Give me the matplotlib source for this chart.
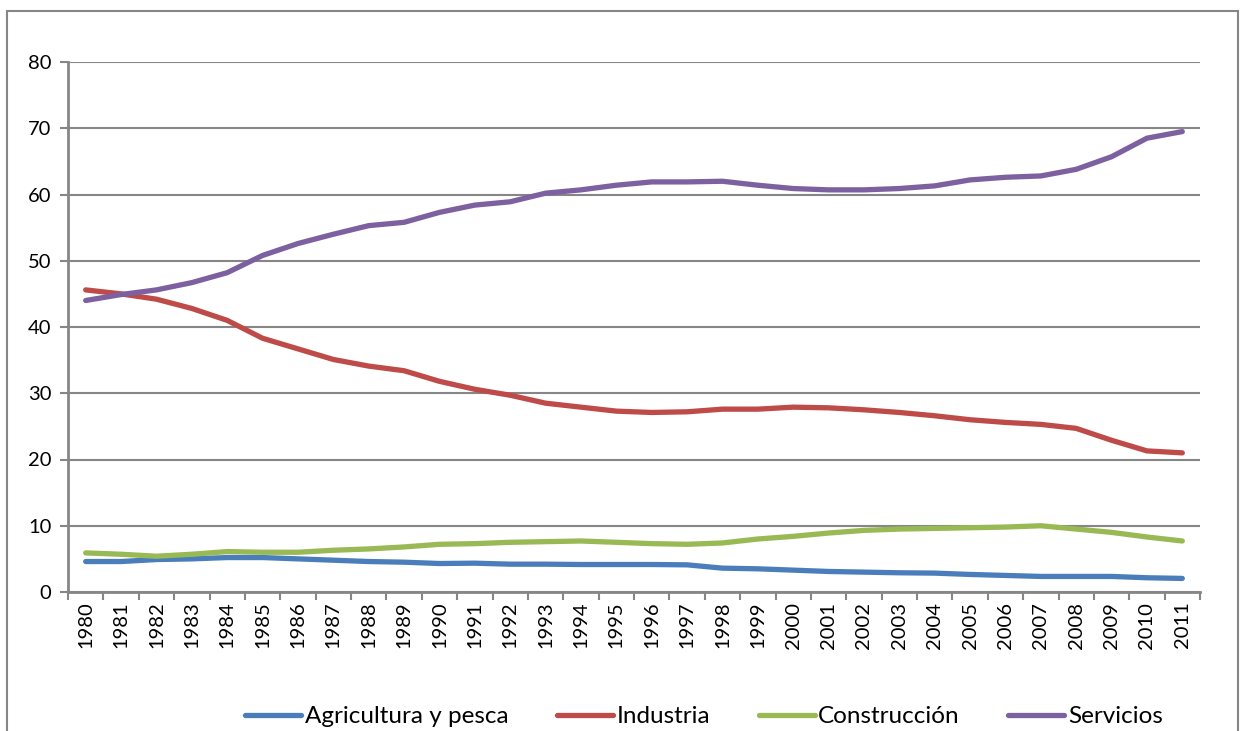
import numpy as np
import matplotlib
matplotlib.use("Agg")
import matplotlib.pyplot as plt
from matplotlib.patches import Rectangle

plt.rcParams["font.family"] = ["Lato", "DejaVu Sans"]

years = [str(y) for y in range(1980, 2012)]

agricultura = [4.6, 4.6, 4.9, 5.0, 5.2, 5.2, 5.0, 4.8, 4.6, 4.5, 4.3, 4.35, 4.2, 4.2, 4.15, 4.15,
               4.15, 4.1, 3.6, 3.5, 3.3, 3.1, 3.0, 2.9, 2.85, 2.65, 2.5, 2.35, 2.35, 2.35, 2.15, 2.05]
industria = [45.6, 45.0, 44.2, 42.8, 41.0, 38.3, 36.7, 35.1, 34.1, 33.4, 31.8, 30.6, 29.7, 28.5, 27.9, 27.3,
             27.1, 27.2, 27.6, 27.6, 27.9, 27.8, 27.5, 27.1, 26.6, 26.0, 25.6, 25.3, 24.7, 22.9, 21.3, 21.0]
construccion = [5.9, 5.7, 5.4, 5.7, 6.1, 6.0, 6.0, 6.3, 6.5, 6.8, 7.2, 7.3, 7.5, 7.6, 7.7, 7.5,
                7.3, 7.2, 7.4, 8.0, 8.4, 8.9, 9.3, 9.5, 9.6, 9.7, 9.8, 10.0, 9.5, 9.0, 8.3, 7.7]
servicios = [44.0, 44.9, 45.6, 46.7, 48.2, 50.8, 52.6, 54.0, 55.3, 55.8, 57.3, 58.4, 58.9, 60.2, 60.7, 61.4,
             61.9, 61.9, 62.0, 61.4, 60.9, 60.7, 60.7, 60.9, 61.3, 62.2, 62.6, 62.8, 63.8, 65.7, 68.5, 69.5]

series = [
    ("Agricultura y pesca", agricultura, "#4a7ebb"),
    ("Industria", industria, "#be4b48"),
    ("Construcción", construccion, "#98b954"),
    ("Servicios", servicios, "#7d60a0"),
]

fig = plt.figure(figsize=(12.46, 7.31), dpi=100)
ax = fig.add_axes([68 / 1246, 1 - 592 / 731, (1200 - 68) / 1246, (592 - 62) / 731])

x = np.arange(len(years))
for name, vals, col in series:
    ax.plot(x, vals, color=col, lw=3.8, solid_capstyle="round", solid_joinstyle="round", label=name)

grid_col = "#868686"
ax.set_xlim(-0.5, len(years) - 0.5)
ax.set_ylim(0, 80)
ax.set_yticks(range(0, 81, 10))
ax.yaxis.grid(True, color=grid_col, lw=1.5)
ax.set_axisbelow(True)

ax.set_xticks(x)
ax.set_xticklabels(years, rotation=90, fontsize=14.5)
ax.set_xticks(np.arange(-0.5, len(years)), minor=True)
ax.tick_params(axis="x", which="major", length=0, pad=7)
ax.tick_params(axis="x", which="minor", length=6, width=1.5, color=grid_col)
ax.tick_params(axis="y", length=6, width=1.5, color=grid_col, labelsize=14.5, pad=6)

for s in ["top", "right"]:
    ax.spines[s].set_visible(False)
for s in ["left", "bottom"]:
    ax.spines[s].set_color(grid_col)
    ax.spines[s].set_linewidth(2)

fig.legend(loc="lower center", bbox_to_anchor=(0.565, -0.025), ncol=4, frameon=False,
           fontsize=17.5, handlelength=2.3, handletextpad=0.15, columnspacing=2.0)

fig.patches.append(Rectangle((7 / 1246, -0.05), (1238 - 7) / 1246, 1 - 11 / 731 + 0.05,
                             transform=fig.transFigure, fill=False, edgecolor=grid_col, lw=1.5))

fig.savefig("out.png", dpi=100)
